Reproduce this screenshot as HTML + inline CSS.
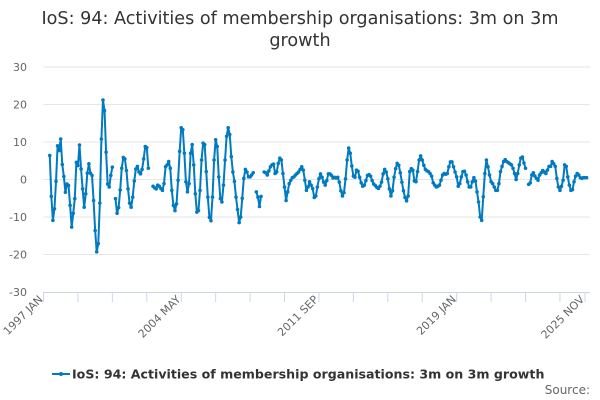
<!DOCTYPE html>
<html><head><meta charset="utf-8"><style>
html,body{margin:0;padding:0;background:#fff;}
svg{display:block;font-family:"DejaVu Sans","Liberation Sans",sans-serif;}
</style></head><body>
<svg id="chart" width="600" height="400" viewBox="0 0 600 400" xmlns="http://www.w3.org/2000/svg">
<text x="300" y="24" text-anchor="middle" font-size="17.6" fill="#333">IoS: 94: Activities of membership organisations: 3m on 3m</text>
<text x="300" y="46" text-anchor="middle" font-size="17.6" fill="#333">growth</text>
<g id="grid"></g>
<g id="yaxis"></g>
<g id="xaxis"></g>
<g id="series"></g>
<g>
<line x1="52" y1="374" x2="70" y2="374" stroke="#007ac0" stroke-width="2"/>
<circle cx="61" cy="374" r="2" fill="#007ac0"/>
<text x="72" y="378.5" font-size="12.6" font-weight="bold" fill="#333">IoS: 94: Activities of membership organisations: 3m on 3m growth</text>
</g>
<text x="590" y="394" text-anchor="end" font-size="12" fill="#666">Source:</text>
</svg>
<script>
const startOffset = 4; // first data point is 1997 MAY (months after 1997 JAN)
const segA = [6.4,-4.5,-10.9,-7.8,-0.5,9,7.7,10.8,4,0.8,-3.4,-1.2,-1.6,-6.9,-12.7,-9,-5.1,4.6,3.7,9.2,2.8,-2.5,-7.4,-3.8,1.7,4.2,1.7,1.1,-5.6,-13.6,-19.3,-17.1,-6.3,10.8,21.2,18.4,7.3,-1.2,-2,1.1,3.3,null];
const segB = [-5.1,-9,-7.5,-2.8,3,5.9,5.5,2.4,-2.5,-6.3,-7.4,-4.7,-0.4,2.8,3.5,2,1.5,2.7,5.5,8.8,8.5,3,null,null];
const segC = [-1.8,-2.2,-2.5,-1.5,-1.8,-2.4,-2.9,-1.1,3.4,3.9,4.8,3,-2.9,-6.9,-8.3,-6.5,-0.2,7.5,13.8,13.3,7,-0.6,-3.3,-1.1,7,9.3,3.9,-3.8,-8.7,-8.3,-2.9,5.2,9.7,9.3,2.1,-4.7,-10.1,-11,-4.7,5.2,10.6,8.8,0.7,-5.1,-6,-1.5,5.2,11.5,13.8,12,6.1];
const segD = [2,-0.5,-4.7,-8,-11.5,-10,-5,0.3,2.7,2,0.7,0.7,1.2,1.8,null,-3.3,-4.7,-7.2,-4.5,null];
const segF = [2,1.8,1.2,2.3,3.4,3.9,4.1,1.6,2,4.3,5.7,5.2,1.6,-2,-5.6,-3.3,-1.1,-0.2,0.5,0.7,1.2,1.6,2,2.7,3.4,2.5,-0.2,-2.9,-2,-0.6,-1.5,-2.4];
const segG = [-4.8,-4.4,-2,0.2,1.5,0.6,-0.7,-1.5,-0.3,1.5,1.5,1.1,0.4,0.6,0.4,0.6,-0.7,-3,-4.4,-3.5,0.2,5.2,8.4,7,3.6,0.9,0.6,2.5,2.2,0.6,-0.9,-1.8,-1.5,-0.3,1.1,1.3,0.9,-0.3,-1.2,-1.6,-2.1,-2.4,-1.8,-0.7,1.5,2.7,2,0.2,-2.5,-4.4,-3,0.6,2.9,4.3,3.8,1.8,-0.7,-3,-4.8,-5.7,-4.4];
const segH = [2.1,2.9,2.5,-0.4,-0.6,2.1,5.2,6.3,5.2,3.8,2.7,2.3,2.1,1.6,0.9,-0.9,-1.5,-2,-1.8,-1.5,-0.2,1.2,1.6,1.4,1.6,3.4,4.7,4.7,3.4,2,0.7,-1.8,-1.1,0.7,2.1,2.2,1.2,-0.6,-2,-2,-0.6,0.5,-0.4,-3.3,-6,-10,-10.9,-4.6,1.6,5.2,3.4,1.2,-0.6,-1.1,-2,-2.9,-2.9];
const segI = [-1.1,2.1,3.5,4.8,5.3,4.8,4.5,4.2,3.9,3,1.6,0,1.6,3.9,5.7,6,4.4,3,null,-1.3,-0.9,1.2,1.8,0.9,0.3,-0.2,1.2,1.8,2.4,2,1.6,2.5,3.5,3.5,4.8,4.2,3.5,0.3,-2,-2.9,-1.8,-0.2,3.9,3.5,0.7,-1.5,-2.9,-2.7,-0.6,0.9,1.6,1.2,0.5,0.3,0.5,0.5,0.5];
const values = [].concat(segA, segB, segC, segD, segF, segG, segH, segI);
const yTicks = [30, 20, 10, 0, -10, -20, -30];
const xTickLabels = ["1997 JAN", "2004 MAY", "2011 SEP", "2019 JAN", "2025 NOV"];
const xTickMonths = [0, 88, 176, 264, 346];

const NS = "http://www.w3.org/2000/svg";
const X0 = 43.5, X1 = 585, M0 = 0, M1 = 346;
const Y_TOP = 67, Y_BOT = 292, VMAX = 30, VMIN = -30;
function xScale(m){ return X0 + (m - M0) * (X1 - X0) / (M1 - M0); }
function yScale(v){ return Y_TOP + (VMAX - v) * (Y_BOT - Y_TOP) / (VMAX - VMIN); }
function mk(tag, attrs, parent){ const e = document.createElementNS(NS, tag); for (const k in attrs) e.setAttribute(k, attrs[k]); parent.appendChild(e); return e; }

const grid = document.getElementById("grid"), yax = document.getElementById("yaxis"), xax = document.getElementById("xaxis"), ser = document.getElementById("series");
yTicks.forEach(t => {
  const y = yScale(t);
  if (t !== VMIN) {
    const g = mk("line", {x1: X0, x2: 590, y1: y, y2: y, stroke: "#e6e6e6", "stroke-width": 1}, grid);
    
    
  }
  const lb = mk("text", {x: 27, y: y + 4, "text-anchor": "end", "font-size": 11, fill: "#666"}, yax);
  
  
  lb.textContent = t;
});
const axl = mk("line", {x1: X0, x2: 590, y1: Y_BOT + 0.5, y2: Y_BOT + 0.5, stroke: "#ccd6eb", "stroke-width": 1}, xax);


for (let m = 0; m <= M1; m += 22) {
  const tx = xScale(m);
  const tk = mk("line", {x1: tx, x2: tx, y1: Y_BOT, y2: Y_BOT + 10, stroke: "#ccd6eb", "stroke-width": 1}, xax);
  
  
}
const lastTk = mk("line", {x1: X1, x2: X1, y1: Y_BOT, y2: Y_BOT + 10, stroke: "#ccd6eb", "stroke-width": 1}, xax);


xTickLabels.forEach((s, i) => {
  const tx = xScale(xTickMonths[i]), ty = 300;
  const lb = mk("text", {x: tx, y: ty, "text-anchor": "end", "font-size": 11, fill: "#666", transform: `rotate(-45 ${tx} ${ty})`}, xax);
  
  
  lb.textContent = s;
});
let d = "", pen = false;
values.forEach((v, i) => {
  if (v === null) { pen = false; return; }
  const x = xScale(startOffset + i), y = yScale(v);
  d += (pen ? "L" : "M") + x.toFixed(2) + " " + y.toFixed(2);
  pen = true;
});
const path = mk("path", {d: d, fill: "none", stroke: "#007ac0", "stroke-width": 2, "stroke-linejoin": "round"}, ser);


values.forEach((v, i) => {
  if (v === null) return;
  const c = mk("circle", {cx: xScale(startOffset + i), cy: yScale(v), r: 1.8, fill: "#007ac0"}, ser);
  
  
});
</script>
</body></html>
